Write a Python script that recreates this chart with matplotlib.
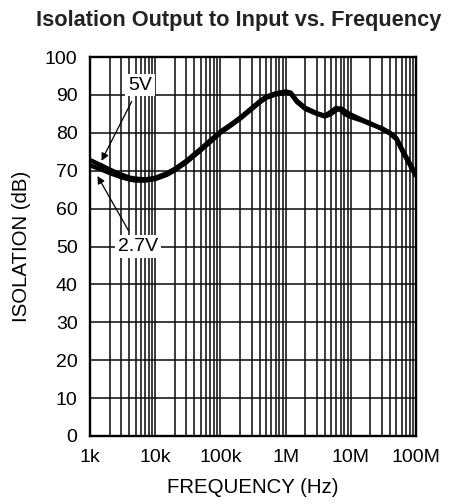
import matplotlib
matplotlib.use("Agg")
import matplotlib.pyplot as plt
from matplotlib.ticker import FixedLocator, NullFormatter

# ---- data ----
freq_hz = [1e3, 1.5e3, 2e3, 3e3, 4e3, 5e3, 7e3, 1e4, 1.5e4, 2e4, 3e4, 5e4, 7e4,
           1e5, 1.5e5, 2e5, 3e5, 4e5, 5e5, 7e5, 1e6, 1.2e6, 1.5e6, 2e6, 3e6,
           4e6, 5e6, 6e6, 7e6, 8e6, 1e7, 1.5e7, 2e7, 3e7, 4e7, 5e7, 6e7, 7e7,
           8e7, 1e8]
iso_5v = [72.8, 71.4, 70.3, 69.0, 68.2, 67.9, 67.7, 68.1, 69.3, 70.5, 72.6, 75.8,
          78.0, 80.3, 82.4, 84.0, 86.5, 88.3, 89.5, 90.4, 90.9, 90.6, 88.4, 86.6,
          85.2, 84.5, 85.6, 86.6, 86.0, 85.0, 84.2, 83.2, 82.3, 81.2, 80.0, 78.6,
          76.0, 73.8, 72.0, 69.0]
iso_2v7 = [71.4, 70.3, 69.4, 68.3, 67.7, 67.4, 67.4, 67.8, 68.9, 70.1, 72.2, 75.4,
           77.6, 80.0, 82.1, 83.7, 86.2, 88.0, 89.2, 90.1, 90.6, 90.3, 88.1, 86.3,
           85.0, 84.3, 85.0, 86.0, 86.5, 85.8, 84.8, 83.4, 82.5, 81.0, 79.8, 78.3,
           75.6, 73.4, 71.6, 68.5]
x_ticks = [1e3, 1e4, 1e5, 1e6, 1e7, 1e8]
x_tick_labels = ["1k", "10k", "100k", "1M", "10M", "100M"]
y_ticks = list(range(0, 101, 10))

plt.rcParams['font.family'] = ['Liberation Sans', 'DejaVu Sans']

fig = plt.figure(figsize=(4.51, 5.04), dpi=100)
ax = fig.add_axes([90/451, 1-436/504, 326/451, 379/504])

ax.set_xscale('log')
ax.set_xlim(1e3, 1e8)
ax.set_ylim(0, 100)

ax.xaxis.set_major_locator(FixedLocator(x_ticks))
ax.set_xticklabels(x_tick_labels)
minor = [m * 10**e for e in range(3, 8) for m in range(2, 10)]
ax.xaxis.set_minor_locator(FixedLocator(minor))
ax.xaxis.set_minor_formatter(NullFormatter())
ax.set_yticks(y_ticks)

ax.grid(True, which='both', axis='x', color='#111111', lw=1.15)
ax.grid(True, which='major', axis='y', color='#111111', lw=1.15)
ax.set_axisbelow(True)
ax.tick_params(which='both', length=0, labelsize=14, colors='black')
ax.tick_params(axis='y', pad=9)
ax.tick_params(axis='x', pad=9)
for s in ax.spines.values():
    s.set_linewidth(1.7)
    s.set_color('black')

ax.plot(freq_hz, iso_5v, color='black', lw=3.2, solid_capstyle='butt', zorder=3)
ax.plot(freq_hz, iso_2v7, color='black', lw=3.2, solid_capstyle='butt', zorder=3)

bbox = dict(boxstyle='square,pad=0.15', fc='white', ec='none')
ax.annotate('5V', xy=(1.5e3, 72.6), xytext=(5.85e3, 92.6), fontsize=14,
            ha='center', va='center', bbox=bbox, zorder=5,
            arrowprops=dict(arrowstyle='-|>', color='black', lw=0.9,
                            mutation_scale=11, shrinkA=4, shrinkB=0))
ax.annotate('2.7V', xy=(1.3e3, 68.6), xytext=(5.4e3, 49.9), fontsize=14,
            ha='center', va='center', bbox=bbox, zorder=5,
            arrowprops=dict(arrowstyle='-|>', color='black', lw=0.9,
                            mutation_scale=11, shrinkA=4, shrinkB=0))

ax.set_xlabel('FREQUENCY (Hz)', fontsize=14.7, labelpad=9)
ax.set_ylabel('ISOLATION (dB)', fontsize=14.7, labelpad=10)
fig.text(0.529, 0.960, 'Isolation Output to Input vs. Frequency', fontsize=15.7,
         fontweight='bold', ha='center', va='center', color='#222222')

fig.savefig('out.png', dpi=100)
